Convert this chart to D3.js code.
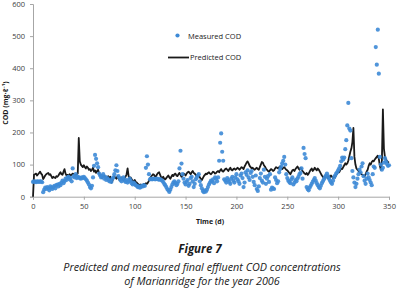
<!DOCTYPE html>
<html>
<head>
<meta charset="utf-8">
<script src="https://cdn.jsdelivr.net/npm/d3@7/dist/d3.min.js"></script>
<style>
  body { margin: 0; background: #fff; }
  svg text { font-family: "Open Sans", "Noto Sans", sans-serif; }
</style>
</head>
<body>
<div id="chart"></div>
<script>
// predicted COD, one value per day (day 0 .. 350)
let predicted = [
  0, 68, 70, 72, 66, 70, 74, 78, 72, 68,
  55, 60, 66, 70, 72, 74, 68, 70, 64, 58,
  62, 60, 58, 64, 62, 66, 72, 76, 70, 68,
  78, 86, 72, 66, 68, 64, 70, 66, 68, 72,
  70, 68, 66, 70, 72, 183, 110, 100, 96, 92,
  98, 92, 88, 94, 90, 84, 86, 80, 84, 90,
  78, 82, 74, 80, 84, 72, 66, 62, 58, 64,
  66, 60, 56, 60, 64, 58, 62, 44, 48, 58,
  62, 60, 56, 64, 58, 52, 56, 60, 54, 50,
  58, 62, 70, 88, 64, 56, 60, 54, 50, 48,
  52, 46, 44, 40, 38, 36, 38, 34, 36, 40,
  38, 42, 40, 44, 50, 56, 62, 66, 70, 68,
  62, 64, 70, 74, 76, 68, 60, 58, 62, 56,
  54, 58, 62, 66, 60, 56, 62, 68, 64, 70,
  72, 66, 64, 70, 74, 68, 62, 66, 72, 70,
  66, 72, 76, 78, 74, 70, 76, 80, 74, 72,
  68, 64, 70, 66, 60, 56, 52, 58, 64, 68,
  72, 70, 74, 76, 72, 70, 74, 78, 76, 72,
  74, 78, 80, 76, 82, 86, 80, 78, 82, 86,
  88, 84, 80, 86, 90, 84, 82, 86, 88, 84,
  86, 90, 88, 84, 88, 92, 90, 86, 94, 100,
  106, 110, 104, 96, 92, 88, 90, 86, 84, 88,
  90, 86, 84, 92, 100, 108, 106, 98, 94, 88,
  84, 80, 78, 82, 86, 84, 80, 82, 88, 92,
  90, 88, 92, 94, 90, 86, 90, 92, 88, 84,
  82, 78, 74, 70, 76, 82, 84, 80, 86, 90,
  94, 88, 84, 90, 86, 80, 76, 72, 70, 74,
  68, 72, 78, 84, 88, 80, 84, 90, 86, 82,
  88, 84, 78, 72, 66, 62, 58, 64, 60, 62,
  58, 64, 60, 66, 62, 58, 64, 60, 68, 72,
  78, 76, 82, 88, 86, 92, 98, 104, 100, 104,
  112, 126, 140, 150, 170, 214, 124, 100, 88, 84,
  80, 76, 74, 70, 68, 66, 64, 70, 78, 84,
  96, 104, 100, 108, 112, 110, 116, 120, 124, 128,
  118, 96, 84, 110, 272, 150, 124, 116, 112, 108,
  106
];

// measured COD, one value per day (null = no sample)
let measured = [
  46, 48, 47, 45, 48, 47, 46, 48, 47, 45,
  14, 22, 28, 24, 30, 26, 20, 32, 28, 24,
  30, 34, 26, 36, 38, 32, 40, 36, 44, 50,
  42, 48, 56, 52, 60, 62, 54, 58, 48, 88,
  64, 60, 70, 58, 62, 60, 58, 56, 60, 58,
  62, 58, 54, 50, 44, 38, 30, 26, 34, 60,
  96, 130, 118, 104, 92, 72, 66, 60, 64, 70,
  56, 62, 52, 58, 54, 48, 50, 46, 56, 60,
  70, 82, 98, 80, 64, 58, 52, 48, 56, 60,
  50, 46, 52, 44, 48, 56, 50, 42, 38, 44,
  40, 36, 34, 30, 32, 28, 30, 34, 32, 36,
  34, 90, 126, 100, 70, 54, 56, 54, 55, 56,
  54, 55, 56, 54, 53, 55, 52, 50, 46, 40,
  36, 30, 24, 20, 15, 22, 30, 38, 44, 48,
  42, 36, 40, 48, 88, 143, 103, 70, 56, 44,
  38, 46, 52, 34, 40, 58, 62, 48, 30, 40,
  54, 60, 66, 70, 48, 36, 26, 18, 14, 20,
  16, 22, 30, 38, 44, 50, 48, 54, 42, 60,
  56, 48, 60, 112, 168, 197, 140, 112, 54, 50,
  44, 58, 52, 46, 40, 56, 62, 50, 44, 60,
  70, 54, 48, 40, 66, 72, 58, 30, 44, 76,
  68, 82, 60, 52, 74, 80, 62, 46, 36, 66,
  24, 18, 32, 58, 72, 50, 44, 84, 62, 40,
  56, 64, 46, 70, 22, 28, 26, 24, 60, 52,
  42, 48, 76, 86, 94, 104, 112, 124, 100, 70,
  58, 50, 46, 42, 54, 60, 38, 44, 52, 48,
  56, 62, 70, 74, 88, 56, 152, 133, 120, 30,
  24, 20, 28, 34, 40, 46, 52, 58, 50, 42,
  36, 30, 26, 34, 42, 48, 54, 60, 66, 72,
  64, 56, 50, 44, 40, 50, 60, 66, 72, 76,
  82, 88, 96, 110, 122, 116, 122, 148, 176, 222,
  292, 212, 206, 120, 80, 60, 44, 30, 40, 56,
  70, 84, 76, 94, 104, 64, 50, 40, 56, 72,
  60, 52, 44, 36, 70, 94, 90, 466, 411, 520,
  383, 124, 100, 84, 90, 106, 120, 110, 102, 96,
  98
];

let xTicks = [0, 50, 100, 150, 200, 250, 300, 350];
let yTicks = [0, 100, 200, 300, 400, 500, 600];

let width = 397, height = 289;

let svg = d3.select("#chart")
  .append("svg")
  .attr("width", width)
  .attr("height", height);

let x = d3.scaleLinear().domain([0, 350]).range([33, 389]);
let y = d3.scaleLinear().domain([0, 600]).range([196.7, 4]);

// axes
let xAxis = svg.append("g")
  .attr("transform", "translate(0," + y(0) + ")")
  .call(d3.axisBottom(x).tickValues(xTicks).tickSize(3).tickPadding(4));
let yAxis = svg.append("g")
  .attr("transform", "translate(" + x(0) + ",0)")
  .call(d3.axisLeft(y).tickValues(yTicks).tickSize(3).tickPadding(5));

[xAxis, yAxis].forEach(function(g) {
  g.select(".domain").attr("stroke", "#a6a6a6").attr("stroke-width", 1);
  g.selectAll(".tick line").attr("stroke", "#a6a6a6");
  g.selectAll(".tick text")
    .attr("fill", "#404040")
    .style("font-size", "7.5px")
    .style("font-family", "'Open Sans', sans-serif");
});

// predicted line
let line = d3.line()
  .x(function(d, i) { return x(i); })
  .y(function(d) { return y(d); });

svg.append("path")
  .datum(predicted)
  .attr("fill", "none")
  .attr("stroke", "#1a1a1a")
  .attr("stroke-width", 1.8)
  .attr("stroke-linejoin", "round")
  .attr("d", line);

// measured points
svg.selectAll("circle.meas")
  .data(measured.map(function(v, i) { return { day: i, value: v }; })
    .filter(function(d) { return d.value != null; }))
  .enter()
  .append("circle")
  .attr("class", "meas")
  .attr("cx", function(d) { return x(d.day); })
  .attr("cy", function(d) { return y(d.value); })
  .attr("r", 2.1)
  .attr("fill", "#3d8ad6")
  .attr("fill-opacity", 0.9);

// legend
svg.append("circle")
  .attr("cx", 177.5).attr("cy", 35.5).attr("r", 2.1)
  .attr("fill", "#3d8ad6");
svg.append("text")
  .attr("x", 188).attr("y", 38.5)
  .style("font-size", "7.5px").attr("fill", "#1a1a1a")
  .text("Measured COD");
svg.append("line")
  .attr("x1", 168).attr("x2", 189).attr("y1", 57.5).attr("y2", 57.5)
  .attr("stroke", "#1a1a1a").attr("stroke-width", 1.8);
svg.append("text")
  .attr("x", 190).attr("y", 60)
  .style("font-size", "7.5px").attr("fill", "#1a1a1a")
  .text("Predicted COD");

// axis titles
svg.append("text")
  .attr("x", 210).attr("y", 224)
  .attr("text-anchor", "middle")
  .style("font-size", "7px").style("font-weight", "bold").attr("fill", "#1a1a1a")
  .text("Time (d)");
svg.append("text")
  .attr("transform", "translate(8,103) rotate(-90)")
  .attr("text-anchor", "middle")
  .style("font-size", "7px").style("font-weight", "bold").attr("fill", "#1a1a1a")
  .text("COD (mg·ℓ⁻¹)");

// figure caption
svg.append("text")
  .attr("x", 200).attr("y", 253)
  .attr("text-anchor", "middle")
  .style("font-size", "11.5px").style("font-weight", "bold").style("font-style", "italic")
  .attr("fill", "#1a1a1a")
  .text("Figure 7");
svg.append("text")
  .attr("x", 202).attr("y", 271)
  .attr("text-anchor", "middle")
  .style("font-size", "10.8px").style("font-style", "italic")
  .attr("fill", "#1a1a1a")
  .text("Predicted and measured final effluent COD concentrations");
svg.append("text")
  .attr("x", 202).attr("y", 285)
  .attr("text-anchor", "middle")
  .style("font-size", "10.8px").style("font-style", "italic")
  .attr("fill", "#1a1a1a")
  .text("of Marianridge for the year 2006");
</script>
</body>
</html>
